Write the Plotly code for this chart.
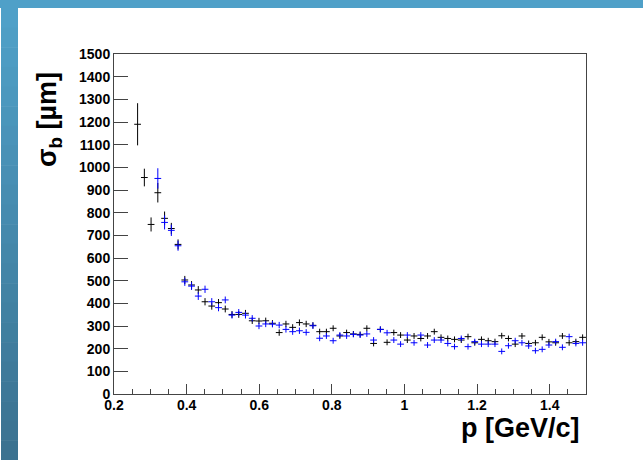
import plotly.graph_objects as go

# bin centres in p [GeV/c]
p = [0.2650, 0.2836, 0.3021, 0.3207, 0.3393, 0.3579, 0.3764, 0.3950, 0.4136, 0.4321,
     0.4507, 0.4693, 0.4879, 0.5064, 0.5250, 0.5436, 0.5621, 0.5807, 0.5993, 0.6179,
     0.6364, 0.6550, 0.6736, 0.6921, 0.7107, 0.7293, 0.7479, 0.7664, 0.7850, 0.8036,
     0.8221, 0.8407, 0.8593, 0.8779, 0.8964, 0.9150, 0.9336, 0.9521, 0.9707, 0.9893,
     1.0079, 1.0264, 1.0450, 1.0636, 1.0821, 1.1007, 1.1193, 1.1379, 1.1564, 1.1750,
     1.1936, 1.2121, 1.2307, 1.2493, 1.2679, 1.2864, 1.3050, 1.3236, 1.3421, 1.3607,
     1.3793, 1.3979, 1.4164, 1.4350, 1.4536, 1.4721, 1.4907]

sigma_black = [1190, 955, 748, 888, 775, 730, 660, 503, 481, 459,
               407, 388, 403, 375, 351, 351, 356, 323, 322, 323,
               312, 271, 309, 294, 315, 309, 303, 275, 275, 290,
               256, 271, 265, 263, 290, 223, 285, 228, 271, 260,
               238, 256, 245, 256, 275, 250, 245, 241, 238, 253,
               226, 241, 235, 231, 257, 245, 220, 256, 223, 226,
               250, 230, 226, 256, 226, 231, 250]
err_black = [93, 39, 31, 43, 30, 25, 22, 18, 17, 17,
             16, 16, 16, 15, 15, 15, 15, 14, 14, 14,
             14, 14, 14, 14, 14, 14, 14, 13, 13, 13,
             13, 13, 13, 13, 13, 13, 13, 13, 13, 13,
             13, 13, 13, 13, 13, 13, 13, 13, 13, 13,
             13, 13, 13, 13, 13, 13, 13, 13, 13, 13,
             13, 13, 13, 13, 13, 13, 13]

sigma_blue = [None, None, None, 951, 757, 722, 654, 495, 476, 432,
              462, 407, 381, 415, 348, 360, 348, 334, 300, 309,
              308, 304, 285, 275, 279, 272, 301, 246, 256, 235,
              260, 256, 263, 260, 265, 238, 285, 270, 238, 220,
              260, 226, 260, 216, 238, 238, 223, 209, 245, 209,
              231, 220, 220, 220, 188, 213, 235, 226, 212, 191,
              197, 216, 231, 206, 253, 223, 226]
err_blue = [0, 0, 0, 45, 31, 25, 22, 18, 17, 17,
            16, 16, 16, 15, 15, 15, 15, 14, 14, 14,
            14, 14, 14, 14, 14, 14, 14, 13, 13, 13,
            13, 13, 13, 13, 13, 13, 13, 13, 13, 13,
            13, 13, 13, 13, 13, 13, 13, 13, 13, 13,
            13, 13, 13, 13, 13, 13, 13, 13, 13, 13,
            13, 13, 13, 13, 13, 13, 13]

x_ticks = [0.2, 0.4, 0.6, 0.8, 1.0, 1.2, 1.4]
x_ticktext = ["0.2", "0.4", "0.6", "0.8", "1", "1.2", "1.4"]
half_bin = 0.0093

fig = go.Figure()
for ys, es, col in [(sigma_black, err_black, "#000000"), (sigma_blue, err_blue, "#0000ff")]:
    fig.add_trace(go.Scatter(
        x=p, y=ys, mode="markers",
        marker=dict(size=1, color="rgba(0,0,0,0)", line=dict(width=0)),
        error_x=dict(type="constant", value=half_bin, width=0, thickness=1, color=col),
        error_y=dict(type="data", array=es, width=0, thickness=1, color=col),
        showlegend=False, hoverinfo="skip"))

L, R, T, B = 114, 586, 54, 394
W, H = 643, 460
def px(x):
    return (x - L) / (R - L)
def py(y):
    return (B - y) / (B - T)

shapes = []
# top band
shapes.append(dict(type="rect", xref="paper", yref="paper", x0=px(0), x1=px(W), y0=py(8), y1=py(0),
                   fillcolor="#4fa0c8", line=dict(width=0), layer="below"))
# left band with stepped gradient
top_c = (0x4f, 0xa0, 0xc8)
bot_c = (0x3b, 0x72, 0x90)
n = 23
for i in range(n):
    t = i / (n - 1)
    c = tuple(int(round(top_c[k] + (bot_c[k] - top_c[k]) * t)) for k in range(3))
    y0 = 8 + (H - 8) * i / n
    y1 = 8 + (H - 8) * (i + 1) / n
    shapes.append(dict(type="rect", xref="paper", yref="paper", x0=px(1), x1=px(18),
                       y0=py(y1 + 0.5), y1=py(y0),
                       fillcolor="rgb(%d,%d,%d)" % c, line=dict(width=0), layer="below"))

tickfont = dict(family="Liberation Sans", size=14, color="black", weight="bold")
fig.update_layout(
    width=W, height=H,
    margin=dict(l=L, r=W - R, t=T, b=H - B, pad=0),
    paper_bgcolor="white", plot_bgcolor="white",
    shapes=shapes,
    xaxis=dict(range=[0.2, 1.5], tickvals=x_ticks, ticktext=x_ticktext,
               ticks="inside", ticklen=10, tickcolor="#444", tickwidth=1,
               minor=dict(ticks="inside", ticklen=5, dtick=0.05, tick0=0.2, tickcolor="#444", showgrid=False),
               showgrid=False, zeroline=False, showline=True, mirror=True,
               linecolor="#444", linewidth=1, tickfont=tickfont, ticklabelstandoff=-2),
    yaxis=dict(range=[0, 1500], dtick=100, tick0=0,
               ticks="inside", ticklen=14, tickcolor="#444", tickwidth=1,
               showgrid=False, zeroline=False, showline=True, mirror=True,
               linecolor="#444", linewidth=1, tickfont=tickfont),
    annotations=[
        dict(text="<b>σ<sub>b</sub> [µm]</b>", textangle=-90, xref="paper", yref="paper",
             x=px(49), y=py(120), xanchor="center", yanchor="middle", showarrow=False,
             font=dict(family="Liberation Sans", size=27, color="black")),
        dict(text="<b>p [GeV/c]</b>", xref="paper", yref="paper",
             x=px(582), y=py(428), xanchor="right", yanchor="middle", showarrow=False,
             font=dict(family="Liberation Sans", size=27, color="black")),
    ],
)

fig.write_html("out.html")
